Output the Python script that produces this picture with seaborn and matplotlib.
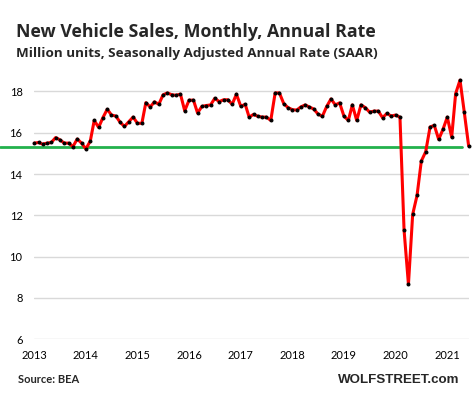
import pandas as pd
import matplotlib.pyplot as plt
import matplotlib.dates as mdates
import seaborn as sns

# Monthly SAAR, million units, Jan 2013 - Jun 2021
sales_2013 = [15.50, 15.53, 15.45, 15.50, 15.53, 15.77, 15.66, 15.50, 15.50, 15.33, 15.70, 15.50]
sales_2014 = [15.22, 15.60, 16.60, 16.26, 16.73, 17.14, 16.86, 16.81, 16.50, 16.31, 16.54, 16.76]
sales_2015 = [16.46, 16.46, 17.46, 17.25, 17.50, 17.38, 17.84, 17.93, 17.84, 17.82, 17.87, 17.07]
sales_2016 = [17.58, 17.58, 16.96, 17.28, 17.32, 17.35, 17.67, 17.51, 17.60, 17.60, 17.38, 17.87]
sales_2017 = [17.28, 17.38, 16.76, 16.89, 16.80, 16.76, 16.76, 16.60, 17.93, 17.93, 17.41, 17.22]
sales_2018 = [17.12, 17.10, 17.25, 17.35, 17.25, 17.15, 16.91, 16.80, 17.28, 17.64, 17.35, 17.45]
sales_2019 = [16.80, 16.60, 17.35, 16.60, 17.35, 17.22, 17.00, 17.05, 17.05, 16.73, 16.94, 16.81]
sales_2020 = [16.86, 16.76, 11.29, 8.66, 12.05, 12.97, 14.63, 15.08, 16.28, 16.36, 15.68, 16.16]
sales_2021 = [16.76, 15.79, 17.90, 18.55, 17.00, 15.36]

sales = (sales_2013 + sales_2014 + sales_2015 + sales_2016 + sales_2017
         + sales_2018 + sales_2019 + sales_2020 + sales_2021)
months = pd.date_range('2013-01-01', periods=len(sales), freq='MS')
baseline = 15.33
y_ticks = [6, 8, 10, 12, 14, 16, 18]

df = pd.DataFrame({'Month': months, 'SAAR': sales})

sns.set_theme(style='white')
plt.rcParams['font.family'] = ['Lato', 'DejaVu Sans']

fig = plt.figure(figsize=(4.72, 3.98), dpi=100)
ax = fig.add_axes([0.0727, 0.1475, 0.9208, 0.6745])

ax.axhline(baseline, xmin=-0.079, xmax=0.983, color='#22B14C', lw=2.0,
           clip_on=False, zorder=1)
sns.lineplot(data=df, x='Month', y='SAAR', ax=ax, color='#FF0000', lw=2.2,
             marker='o', markersize=2.1, markerfacecolor='black',
             markeredgecolor='black', zorder=3, clip_on=False)

ax.set_xlim(pd.Timestamp('2013-01-01'), pd.Timestamp('2021-06-03'))
ax.set_ylim(6, 19)
ax.set_yticks(y_ticks)
ax.xaxis.set_major_locator(mdates.YearLocator())
ax.xaxis.set_major_formatter(mdates.DateFormatter('%Y'))
ax.grid(axis='y', color='#D9D9D9', lw=1.0)
ax.set_axisbelow(True)
sns.despine(ax=ax, left=True, bottom=True)
ax.tick_params(axis='both', length=0, labelsize=8, colors='black')
ax.tick_params(axis='y', pad=8.5)
ax.tick_params(axis='x', pad=8)
ax.set_xlabel('')
ax.set_ylabel('')

fig.text(0.034, 1 - 37 / 398, 'New Vehicle Sales, Monthly, Annual Rate',
         fontsize=12.8, fontweight='bold', va='baseline',
         family=['Open Sans', 'DejaVu Sans'])
fig.text(0.034, 1 - 57.5 / 398, 'Million units, Seasonally Adjusted Annual Rate (SAAR)',
         fontsize=9.7, fontweight='bold', va='baseline',
         family=['Open Sans', 'DejaVu Sans'])
fig.text(0.0375, 1 - 383 / 398, 'Source: BEA', fontsize=8, fontweight='bold',
         va='baseline')
fig.text(459 / 472, 1 - 383 / 398, 'WOLFSTREET.com', fontsize=9.6,
         fontweight='bold', va='baseline', ha='right',
         family=['Liberation Sans', 'DejaVu Sans'])

fig.savefig('out.png', dpi=100)
